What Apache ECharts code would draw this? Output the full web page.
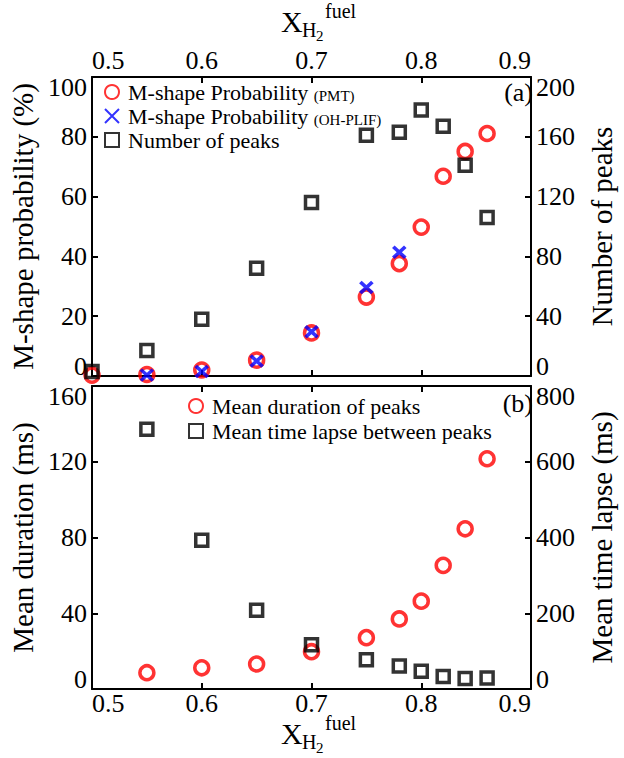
<!DOCTYPE html>
<html>
<head>
<meta charset="utf-8">
<script src="https://cdn.jsdelivr.net/npm/echarts@6/dist/echarts.min.js"></script>
<style>
  html, body { margin: 0; padding: 0; background: #fff; }
  #chart { width: 624px; height: 758px; }
</style>
</head>
<body>
<div id="chart"></div>
<script>
// panel (a)
var xPeaks = [0.5, 0.55, 0.6, 0.65, 0.7, 0.75, 0.78, 0.8, 0.82, 0.84, 0.86];
var pmtProb = [0.3, 0.5, 2.0, 5.3, 14.4, 26.4, 37.6, 49.8, 66.8, 75.1, 81.1];
var numPeaks = [3, 17, 38, 72, 116, 161, 163, 178, 167, 141, 106];
var xPlif = [0.55, 0.6, 0.65, 0.7, 0.75, 0.78];
var plifProb = [0.3, 1.5, 5.0, 14.8, 29.6, 41.4];
// panel (b)
var xMean = [0.55, 0.6, 0.65, 0.7, 0.75, 0.78, 0.8, 0.82, 0.84, 0.86];
var meanDuration = [8.6, 11.2, 13.2, 19.7, 27.1, 37.0, 46.4, 65.3, 84.6, 121.6];
var meanLapse = [686, 393, 208, 117, 77, 61, 47, 33, 28, 29];

var FONT = "'Liberation Serif', 'Times New Roman', serif";

function pairs(xs, ys) {
    return xs.map(function (x, i) { return [x, ys[i]]; });
}

function xAxisCfg(grid, pos, showLabel, margin) {
    return {
        type: 'value',
        gridIndex: grid,
        position: pos,
        min: 0.5,
        max: 0.9,
        interval: 0.1,
        axisLine: { show: true, onZero: false, lineStyle: { color: '#000', width: 2 } },
        axisTick: { show: true, inside: true, length: 6, lineStyle: { color: '#000', width: 2 } },
        axisLabel: {
            show: showLabel,
            color: '#000',
            fontFamily: FONT,
            fontSize: 26,
            lineHeight: 18,
            margin: margin,
            alignMinLabel: 'left',
            alignMaxLabel: 'right',
            formatter: function (v) { return v.toFixed(1); }
        },
        splitLine: { show: false }
    };
}

function yAxisCfg(grid, pos, max, step, name, gap) {
    return {
        type: 'value',
        gridIndex: grid,
        position: pos,
        min: 0,
        max: max,
        interval: step,
        name: name,
        nameLocation: 'middle',
        nameRotate: 90,
        nameGap: gap,
        nameTextStyle: { color: '#000', fontFamily: FONT, fontSize: 29 },
        axisLine: { show: true, lineStyle: { color: '#000', width: 2 } },
        axisTick: { show: true, inside: true, length: 6, lineStyle: { color: '#000', width: 2 } },
        axisLabel: {
            color: '#000',
            fontFamily: FONT,
            fontSize: 26,
            margin: 5,
            lineHeight: 20,
            verticalAlignMinLabel: 'bottom',
            verticalAlignMaxLabel: 'top'
        },
        splitLine: { show: false }
    };
}

function xTitle(cx, cy) {
    var t = function (txt, x, y, size) {
        return {
            type: 'text', x: x, y: y, silent: true,
            style: { text: txt, fill: '#000', fontFamily: FONT, fontSize: size,
                     textAlign: 'left', textVerticalAlign: 'middle', align: 'left', verticalAlign: 'middle' }
        };
    };
    return [
        t('X', cx - 34, cy, 30),
        t('H', cx - 13, cy + 9, 20),
        t('2', cx + 1, cy + 15, 15),
        t('fuel', cx + 10, cy - 10, 20)
    ];
}

var circleStyle = { color: 'rgba(0,0,0,0)', borderColor: '#ff0000', borderWidth: 3.5 };
var squareStyle = { color: 'rgba(0,0,0,0)', borderColor: '#000000', borderWidth: 3.5 };
var crossStyle = { color: 'rgba(0,0,0,0)', borderColor: '#0000ff', borderWidth: 3.5 };

var legendRich = {
    a: { fontFamily: FONT, fontSize: 22, color: '#000', lineHeight: 22 },
    b: { fontFamily: FONT, fontSize: 15, color: '#000', lineHeight: 22, verticalAlign: 'bottom', padding: [5, 0, 0, 0] }
};

var myChart = echarts.init(document.getElementById('chart'), null, { renderer: 'svg' });
var option = {
    backgroundColor: '#fff',
    animation: false,
    grid: [
        { left: 92, top: 77, width: 445, height: 299 },
        { left: 92, top: 386, width: 445, height: 303 }
    ],
    xAxis: [
        xAxisCfg(0, 'top', true, 8),
        xAxisCfg(0, 'bottom', false, 5),
        xAxisCfg(1, 'bottom', true, 5),
        xAxisCfg(1, 'top', false, 5)
    ],
    yAxis: [
        yAxisCfg(0, 'left', 100, 20, 'M-shape probability (%)', 47),
        yAxisCfg(0, 'right', 200, 40, 'Number of peaks', 56),
        yAxisCfg(1, 'left', 160, 40, 'Mean duration (ms)', 47),
        yAxisCfg(1, 'right', 800, 200, 'Mean time lapse (ms)', 56)
    ],
    legend: [
        {
            data: ['pmt', 'plif', 'peaks'],
            orient: 'vertical',
            left: 99, top: 76,
            itemWidth: 14, itemHeight: 14, itemGap: 2,
            textStyle: { rich: legendRich, padding: [0, 0, 0, 4] },
            formatter: function (n) {
                if (n === 'pmt') return '{a|M-shape Probability }{b|(PMT)}';
                if (n === 'plif') return '{a|M-shape Probability }{b|(OH-PLIF)}';
                return '{a|Number of peaks}';
            }
        },
        {
            data: ['duration', 'lapse'],
            orient: 'vertical',
            left: 183, top: 390,
            itemWidth: 14, itemHeight: 14, itemGap: 3,
            textStyle: { rich: legendRich, padding: [0, 0, 0, 4] },
            formatter: function (n) {
                return n === 'duration' ? '{a|Mean duration of peaks}' : '{a|Mean time lapse between peaks}';
            }
        }
    ],
    graphic: xTitle(315, 21).concat(xTitle(315, 733)).concat([
        { type: 'text', x: 533, y: 92, silent: true,
          style: { text: '(a)', fill: '#000', fontFamily: FONT, fontSize: 26,
                   textAlign: 'right', textVerticalAlign: 'middle', align: 'right', verticalAlign: 'middle' } },
        { type: 'text', x: 533, y: 403, silent: true,
          style: { text: '(b)', fill: '#000', fontFamily: FONT, fontSize: 26,
                   textAlign: 'right', textVerticalAlign: 'middle', align: 'right', verticalAlign: 'middle' } }
    ]),
    series: [
        {
            name: 'pmt', type: 'scatter', xAxisIndex: 0, yAxisIndex: 0, clip: false,
            symbol: 'circle', symbolSize: 14, itemStyle: circleStyle,
            data: pairs(xPeaks, pmtProb)
        },
        {
            name: 'plif', type: 'scatter', xAxisIndex: 0, yAxisIndex: 0, clip: false,
            symbol: 'path://M0,0L10,10M10,0L0,10', symbolSize: [12, 11], itemStyle: crossStyle,
            data: pairs(xPlif, plifProb)
        },
        {
            name: 'peaks', type: 'scatter', xAxisIndex: 0, yAxisIndex: 1, clip: false,
            symbol: 'rect', symbolSize: 12, itemStyle: squareStyle,
            data: pairs(xPeaks, numPeaks)
        },
        {
            name: 'duration', type: 'scatter', xAxisIndex: 2, yAxisIndex: 2, clip: false,
            symbol: 'circle', symbolSize: 14, itemStyle: circleStyle,
            data: pairs(xMean, meanDuration)
        },
        {
            name: 'lapse', type: 'scatter', xAxisIndex: 2, yAxisIndex: 3, clip: false,
            symbol: 'rect', symbolSize: 12, itemStyle: squareStyle,
            data: pairs(xMean, meanLapse)
        }
    ]
};
myChart.setOption(option);
</script>
</body>
</html>
